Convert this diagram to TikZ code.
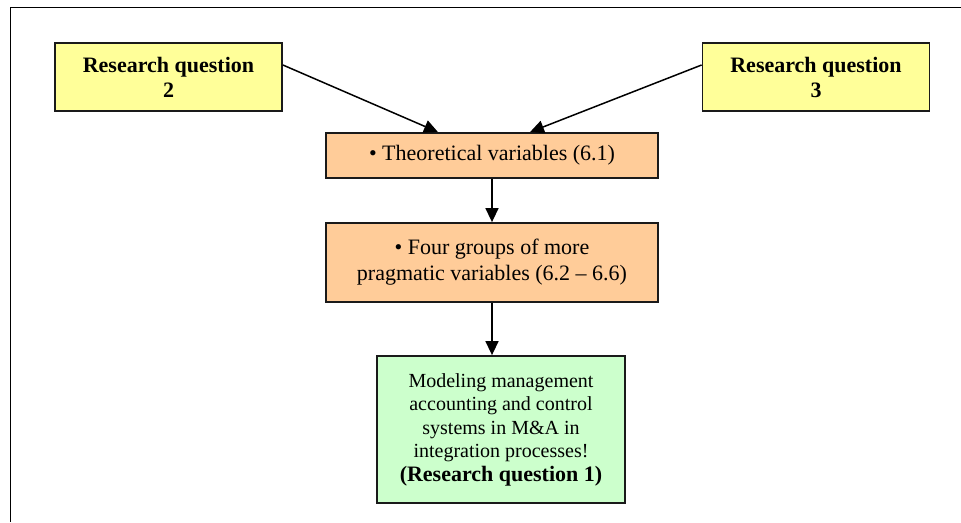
\documentclass[tikz,border=0pt]{standalone}
\usepackage{fontspec}
\setmainfont{Liberation Serif}
\usetikzlibrary{arrows.meta}
\definecolor{rqyellow}{HTML}{FFFF99}
\definecolor{varorange}{HTML}{FFCC99}
\definecolor{resgreen}{HTML}{CCFFCC}
\definecolor{edgegray}{HTML}{1A1A1A}
\tikzset{
  box/.style={draw=edgegray, line width=1.8pt, rectangle, align=center, inner sep=0pt,
    font=\fontsize{22}{26}\selectfont},
  rqbox/.style={box, fill=rqyellow, minimum width=227pt, minimum height=68pt, font=\fontsize{22}{25}\selectfont\bfseries},
  varbox/.style={box, fill=varorange, minimum width=332pt},
  goalbox/.style={box, fill=resgreen, minimum width=248pt, minimum height=147pt, font=\fontsize{20}{23.5}\selectfont},
  conn/.style={line width=1.5pt, -{Triangle[length=14pt,width=13pt]}},
  frameline/.style={line width=1.8pt}
}
\begin{document}
\begin{tikzpicture}[x=1pt,y=-1pt]
\useasboundingbox (0,0) rectangle (961,522);
\coordinate (ftop) at (961,7.5);
\coordinate (fcorner) at (10.5,7.5);
\coordinate (fbottom) at (10.5,522);
\draw[frameline] (ftop) -- (fcorner) -- (fbottom);

\node[rqbox] (rq2) at (168.5,77) {Research question\\2};
\node[rqbox] (rq3) at (816,77) {Research question\\3};
\node[varbox, minimum height=45pt] (th) at (492,155.5) {\textbullet\ Theoretical variables (6.1)};
\node[varbox, minimum height=79pt] (fg) at (492,262.5) {\textbullet\ Four groups of more\\pragmatic variables (6.2 -- 6.6)};
\node[goalbox] (goal) at (501,429.5) {Modeling management\\accounting and control\\systems in M\&A in\\integration processes!\\{\fontsize{22}{24}\selectfont\bfseries (Research question 1)}};

\draw[conn] ([yshift=12pt]rq2.east) -- ([xshift=-54pt]th.north);
\draw[conn] ([yshift=12pt]rq3.west) -- ([xshift=38pt]th.north);
\draw[conn] (th.south) -- (fg.north);
\draw[conn] (fg.south) -- (fg.south |- goal.north);
\end{tikzpicture}
\end{document}
